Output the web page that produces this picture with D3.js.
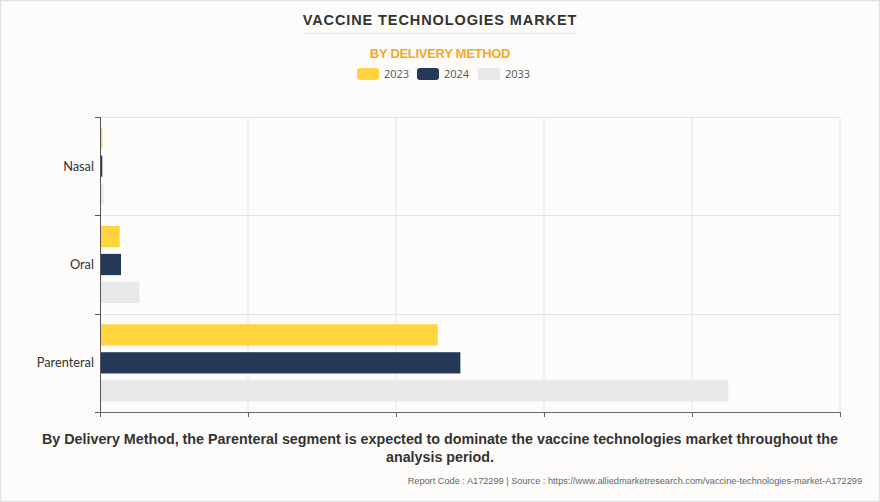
<!DOCTYPE html>
<html>
<head>
<meta charset="utf-8">
<script src="https://cdn.jsdelivr.net/npm/d3@7"></script>
<style>
  html, body { margin: 0; padding: 0; background: #fdfcfa; }
  svg { display: block; }
</style>
</head>
<body>
<div id="chart"></div>
<script>
// values (scale 0..50000, no tick labels shown)
var categories = ["Nasal", "Oral", "Parenteral"];
var years = ["2023", "2024", "2033"];
var values2023 = [155, 1330, 22820];
var values2024 = [155, 1420, 24350];
var values2033 = [250, 2655, 42450];
var xTicks = [0, 10000, 20000, 30000, 40000, 50000];

var colors = ["#ffd43f", "#253858", "#e8e8e8"];
var width = 880, height = 502;
var margin = { top: 117, right: 40, bottom: 90, left: 100 };

var data = categories.map((c, i) => ({
    cat: c,
    vals: [values2023[i], values2024[i], values2033[i]]
}))

var svg = d3.select("#chart").append("svg")
    .attr("width", width)
    .attr("height", height)
    .style("font-family", "'Liberation Sans', Arial, sans-serif");

// frame
svg.append("rect")
    .attr("x", 0.5).attr("y", 0.5)
    .attr("width", width - 1).attr("height", height - 1)
    .attr("fill", "#fdfcfa")
    .attr("stroke", "#e2e2e2")
    .attr("stroke-width", 1.5);

// titles
svg.append("text")
    .attr("x", width / 2).attr("y", 25)
    .attr("text-anchor", "middle")
    .style("font-size", "14.5px").style("font-weight", "bold")
    .style("letter-spacing", "0.9px")
    .attr("fill", "#333")
    .text("VACCINE TECHNOLOGIES MARKET");

svg.append("line")
    .attr("x1", 305).attr("x2", 575)
    .attr("y1", 33.5).attr("y2", 33.5)
    .attr("stroke", "#ebebeb").attr("stroke-width", 1.5);

svg.append("text")
    .attr("x", width / 2).attr("y", 58)
    .attr("text-anchor", "middle")
    .style("font-size", "13px").style("font-weight", "bold")
    .style("letter-spacing", "-0.3px")
    .attr("fill", "#f7a823")
    .text("BY DELIVERY METHOD");

// legend
var legendX = [357, 417, 478];
var legend = svg.append("g")
    .selectAll("g")
    .data(years)
    .enter().append("g")
    .attr("transform", (d, i) => `translate(${legendX[i]}, 68)`);

legend.append("rect")
    .attr("width", 22).attr("height", 12)
    .attr("rx", 3)
    .attr("fill", (d, i) => colors[i]);

legend.append("text")
    .attr("x", 27).attr("y", 10)
    .style("font-family", "'Open Sans', sans-serif")
    .style("font-size", "11px")
    .attr("fill", "#555")
    .text(d => d);

// scales
var x = d3.scaleLinear()
    .domain([0, 50000])
    .range([margin.left, width - margin.right]);

var y = d3.scaleBand()
    .domain(categories)
    .range([margin.top, height - margin.bottom]);

var y1 = d3.scaleBand()
    .domain(years)
    .range([0, y.bandwidth()])
    .paddingInner(0.24)
    .paddingOuter(0.38);

// grid
svg.append("g")
    .selectAll("line")
    .data(xTicks.slice(1))
    .enter().append("line")
    .attr("x1", d => x(d)).attr("x2", d => x(d))
    .attr("y1", margin.top).attr("y2", height - margin.bottom)
    .attr("stroke", "#e4e4e4");

svg.append("g")
    .selectAll("line")
    .data(categories)
    .enter().append("line")
    .attr("x1", margin.left).attr("x2", width - margin.right)
    .attr("y1", d => Math.round(y(d)) + 0.5).attr("y2", d => Math.round(y(d)) + 0.5)
    .attr("stroke", "#e4e4e4");

// bars
var groups = svg.append("g")
    .selectAll("g")
    .data(data)
    .enter().append("g")
    .attr("transform", d => `translate(0, ${y(d.cat)})`);

groups.selectAll("rect")
    .data(d => d.vals.map((v, i) => ({ year: years[i], value: v, i: i })))
    .enter().append("rect")
    .attr("x", x(0))
    .attr("y", d => y1(d.year))
    .attr("width", d => x(d.value) - x(0))
    .attr("height", y1.bandwidth())
    .attr("fill", d => colors[d.i]);

// axes
var xAxis = g => g
    .attr("transform", `translate(0, ${height - margin.bottom})`)
    .call(d3.axisBottom(x).tickValues(xTicks).tickSize(5).tickFormat(""))
    .call(g => g.select(".domain").attr("stroke", "#666"))
    .call(g => g.selectAll(".tick line").attr("stroke", "#666"));

svg.append("g").call(xAxis);

var yAxisG = svg.append("g")
    .attr("transform", `translate(${margin.left}, 0)`);

yAxisG.append("line")
    .attr("x1", 0.5).attr("x2", 0.5)
    .attr("y1", margin.top).attr("y2", height - margin.bottom)
    .attr("stroke", "#555");

yAxisG.selectAll(".bound")
    .data(categories.map(c => y(c)).concat([height - margin.bottom]))
    .enter().append("line")
    .attr("class", "bound")
    .attr("x1", -5).attr("x2", 0)
    .attr("y1", d => Math.round(d) + 0.5).attr("y2", d => Math.round(d) + 0.5)
    .attr("stroke", "#555");

yAxisG.selectAll(".lbl")
    .data(categories)
    .enter().append("text")
    .attr("class", "lbl")
    .attr("x", -6)
    .attr("y", d => y(d) + y.bandwidth() / 2)
    .attr("dy", "0.35em")
    .attr("text-anchor", "end")
    .style("font-family", "Lato, sans-serif")
    .style("font-size", "12.8px")
    .attr("fill", "#333")
    .text(d => d);

// caption
var caption = ["By Delivery Method, the Parenteral segment is expected to dominate the vaccine technologies market throughout the",
    "analysis period."];
svg.append("g")
    .selectAll("text")
    .data(caption)
    .enter().append("text")
    .attr("x", width / 2)
    .attr("y", (d, i) => 444 + i * 18)
    .attr("text-anchor", "middle")
    .style("font-size", "14.3px").style("font-weight", "bold")
    .attr("fill", "#333")
    .text(d => d);

svg.append("text")
    .attr("x", 862).attr("y", 484)
    .attr("text-anchor", "end")
    .style("font-size", "9.2px")
    .attr("fill", "#666")
    .text("Report Code : A172299  |  Source : https://www.alliedmarketresearch.com/vaccine-technologies-market-A172299");
</script>
</body>
</html>
